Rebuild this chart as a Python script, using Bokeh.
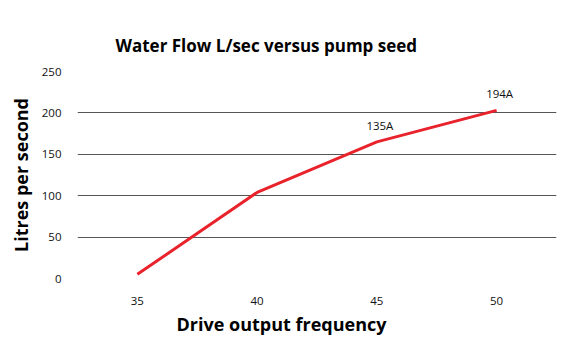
from bokeh.plotting import figure
from bokeh.models import ColumnDataSource, LabelSet, Title, FactorRange, Range1d
from bokeh.core.properties import value
from bokeh.embed import file_html
from bokeh.resources import INLINE

frequency = ["35", "40", "45", "50"]
flow = [5, 104, 165, 203]
current_labels = ["", "", "135A", "194A"]
y_ticks = [0, 50, 100, 150, 200, 250]

src = ColumnDataSource(dict(x=frequency, y=flow, lab=current_labels))

p = figure(width=578, height=349, output_backend="svg", toolbar_location=None,
           x_range=FactorRange(*frequency), y_range=Range1d(0, 250),
           min_border_left=77, min_border_right=22, min_border_top=71, min_border_bottom=71)
p.outline_line_color = None
p.background_fill_color = "white"
p.border_fill_color = "white"

p.line("x", "y", source=src, line_color="#e8232b", line_width=3)

labels = LabelSet(x="x", y="y", text="lab", source=src, x_offset=3, y_offset=9,
                  text_align="center", text_baseline="bottom",
                  text_font_size="11.5px", text_font=value("Open Sans"), text_color="#111111")
p.add_layout(labels)

p.yaxis.ticker = y_ticks
p.yaxis.axis_line_color = None
p.yaxis.major_tick_line_color = None
p.yaxis.minor_tick_line_color = None
p.yaxis.major_label_standoff = 10
p.yaxis.major_label_text_font = "Open Sans"
p.yaxis.major_label_text_font_size = "11.5px"
p.yaxis.major_label_text_color = "#111111"
p.yaxis.axis_label = "Litres per second"
p.yaxis.axis_label_text_font = "Open Sans"
p.yaxis.axis_label_text_font_style = "bold"
p.yaxis.axis_label_text_font_size = "18px"
p.yaxis.axis_label_text_color = "#000000"
p.yaxis.axis_label_standoff = 6

p.xaxis.axis_line_color = None
p.xaxis.major_tick_line_color = None
p.xaxis.minor_tick_line_color = None
p.xaxis.major_label_standoff = 12
p.xaxis.major_label_text_font = "Open Sans"
p.xaxis.major_label_text_font_size = "11.5px"
p.xaxis.major_label_text_color = "#111111"

p.xgrid.grid_line_color = None
p.ygrid.grid_line_color = "#555555"
p.ygrid.grid_line_width = 1

xt = Title(text="Drive output frequency", align="left", offset=99,
           text_font="Open Sans", text_font_style="bold", text_font_size="18px",
           text_color="#000000", standoff=4)
p.add_layout(xt, "below")

p.title = Title(text="Water Flow L/sec versus pump seed", align="left", offset=38,
                text_font="Open Sans", text_font_style="bold", text_font_size="17px",
                text_color="#000000", standoff=29)

open("out.html", "w").write(file_html(p, INLINE))
